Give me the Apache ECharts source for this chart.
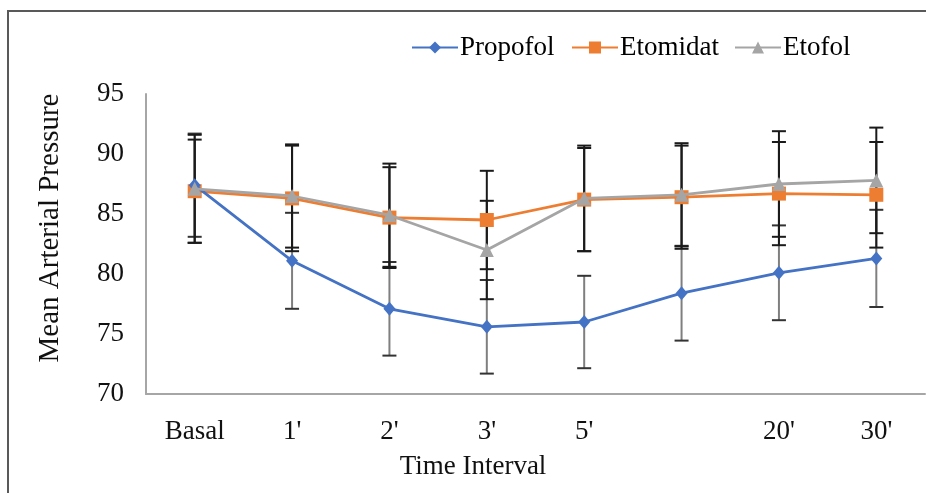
<!DOCTYPE html>
<html>
<head>
<meta charset="utf-8">
<script src="https://cdn.jsdelivr.net/npm/echarts@6/dist/echarts.min.js"></script>
<style>
html,body{margin:0;padding:0;background:#fff;}
#chart{width:926px;height:493px;}
</style>
</head>
<body>
<div id="chart"></div>
<script>
const categories = ['Basal', "1'", "2'", "3'", "5'", '', "20'", "30'"];
const yTicks = [70, 75, 80, 85, 90, 95];

const propofolMean = [87.4, 81.1, 77.1, 75.6, 76.0, 78.4, 80.1, 81.3];
const propofolSD   = [4.3, 4.0, 3.9, 3.9, 3.85, 3.95, 3.95, 4.05];
const etomidatMean = [86.9, 86.3, 84.7, 84.5, 86.2, 86.4, 86.7, 86.6];
const etomidatSD   = [4.3, 4.4, 4.2, 4.1, 4.3, 4.3, 4.3, 4.4];
const etofolMean   = [87.1, 86.5, 84.9, 82.0, 86.3, 86.6, 87.5, 87.8];
const etofolSD     = [4.5, 4.3, 4.3, 4.1, 4.4, 4.3, 4.4, 4.4];

const FONT = '"Liberation Serif", "Times New Roman", serif';

function errData(mean, sd) {
  return mean.map((m, i) => [i, m, m + sd[i], m - sd[i]]);
}

function errRender(barColor, capColor) {
  return function (params, api) {
    const i = api.value(0);
    const hi = api.coord([i, api.value(2)]);
    const lo = api.coord([i, api.value(3)]);
    const x = hi[0];
    const w = 7;
    return {
      type: 'group',
      children: [
        { type: 'line', shape: { x1: x, y1: hi[1], x2: x, y2: lo[1] }, style: { stroke: barColor, lineWidth: 2 } },
        { type: 'line', shape: { x1: x - w, y1: hi[1], x2: x + w, y2: hi[1] }, style: { stroke: capColor, lineWidth: 2 } },
        { type: 'line', shape: { x1: x - w, y1: lo[1], x2: x + w, y2: lo[1] }, style: { stroke: capColor, lineWidth: 2 } }
      ]
    };
  };
}

const chart = echarts.init(document.getElementById('chart'), null, { renderer: 'canvas' });

const legendCommon = {
  top: 34,
  padding: 0,
  itemWidth: 46,
  itemHeight: 15,
  itemGap: 0,
  textStyle: { fontFamily: FONT, fontSize: 27, color: '#000', padding: [0, 0, 0, -3] },
  selectedMode: false
};

chart.setOption({
  animation: false,
  backgroundColor: '#fff',
  textStyle: { fontFamily: FONT },
  grid: { left: 146, right: 1, top: 94, bottom: 99, containLabel: false },
  legend: [
    Object.assign({}, legendCommon, { left: 411, data: ['Propofol'] }),
    Object.assign({}, legendCommon, { left: 571, data: ['Etomidat'] }),
    Object.assign({}, legendCommon, { left: 734, data: ['Etofol'] })
  ],
  xAxis: {
    type: 'category',
    data: categories,
    boundaryGap: true,
    axisLine: { show: true, lineStyle: { color: '#a6a6a6', width: 2 } },
    axisTick: { show: false },
    axisLabel: { fontFamily: FONT, fontSize: 27, color: '#111', margin: 24, interval: 0 },
    splitLine: { show: false }
  },
  yAxis: {
    type: 'value',
    min: yTicks[0],
    max: yTicks[yTicks.length - 1],
    interval: 5,
    axisLine: { show: true, lineStyle: { color: '#a6a6a6', width: 2 } },
    axisTick: { show: false },
    axisLabel: { fontFamily: FONT, fontSize: 27, color: '#111', margin: 22 },
    splitLine: { show: false }
  },
  graphic: [
    { type: 'polyline', shape: { points: [[8, 493], [8, 11], [926, 11]] }, style: { stroke: '#595959', lineWidth: 2, fill: null }, silent: true },
    { type: 'text', x: 473, y: 467, style: { text: 'Time Interval', font: '27px ' + FONT, fill: '#111', textAlign: 'center', textVerticalAlign: 'middle' } },
    { type: 'text', x: 50, y: 228, rotation: Math.PI / 2, style: { text: 'Mean Arterial Pressure', font: '29px ' + FONT, fill: '#111', textAlign: 'center', textVerticalAlign: 'middle' } }
  ],
  series: [
    { name: 'PropofolErr', type: 'custom', renderItem: errRender('#7f7f7f', '#333333'), data: errData(propofolMean, propofolSD), z: 1, silent: true },
    { name: 'EtomidatErr', type: 'custom', renderItem: errRender('#1a1a1a', '#1a1a1a'), data: errData(etomidatMean, etomidatSD), z: 2, silent: true },
    { name: 'EtofolErr', type: 'custom', renderItem: errRender('#1a1a1a', '#1a1a1a'), data: errData(etofolMean, etofolSD), z: 2, silent: true },
    { name: 'Propofol', type: 'line', data: propofolMean, z: 5, symbol: 'diamond', symbolSize: [12, 14],
      lineStyle: { color: '#4472C4', width: 2.8 }, itemStyle: { color: '#4472C4' } },
    { name: 'Etomidat', type: 'line', data: etomidatMean, z: 4, symbol: 'rect', symbolSize: 14,
      lineStyle: { color: '#ED7D31', width: 2.8 }, itemStyle: { color: '#ED7D31' } },
    { name: 'Etofol', type: 'line', data: etofolMean, z: 6, symbol: 'triangle', symbolSize: 14,
      lineStyle: { color: '#A5A5A5', width: 2.8 }, itemStyle: { color: '#A5A5A5' } }
  ]
});
</script>
</body>
</html>
